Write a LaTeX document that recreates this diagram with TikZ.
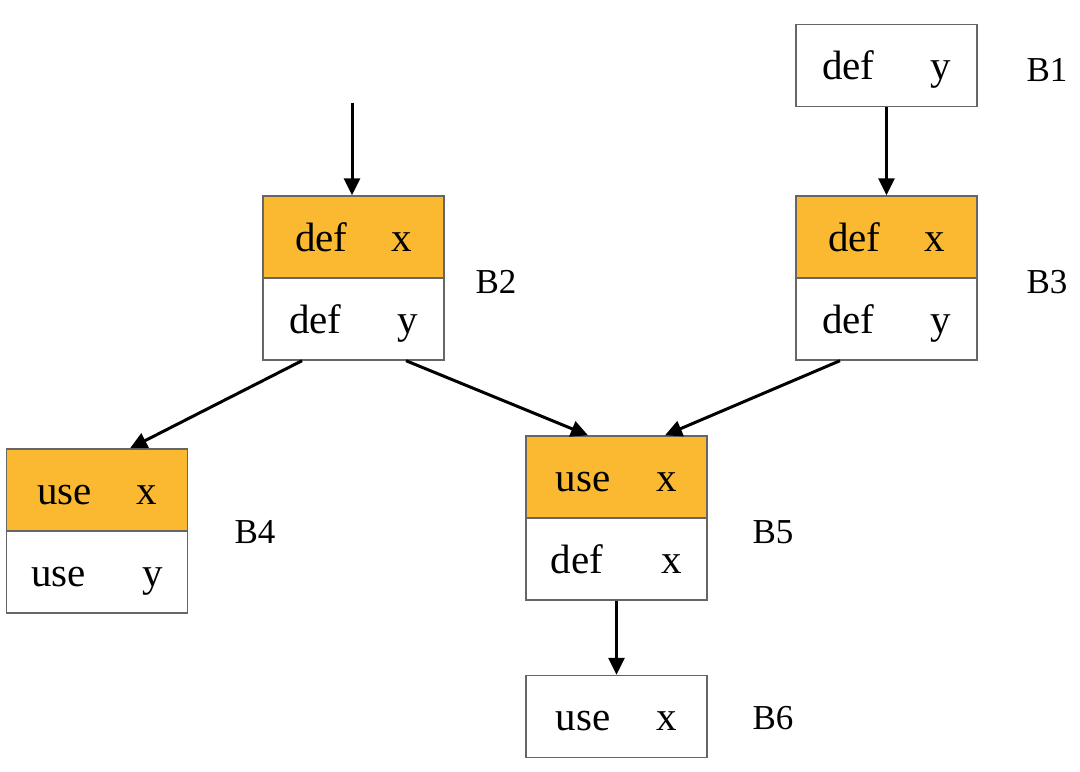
\documentclass[tikz,border=0pt]{standalone}
\usepackage{fontspec}
\setmainfont{Liberation Serif}
\usetikzlibrary{arrows.meta}
\definecolor{boxorange}{HTML}{FBB931}
\definecolor{boxline}{HTML}{666666}
\tikzset{
  cell/.style={draw=boxline, line width=0.7pt, minimum width=90.5pt, minimum height=41pt, inner sep=0pt, text height=18pt, text depth=4pt, font=\fontsize{20.5}{24}\selectfont},
  hot/.style={cell, fill=boxorange},
  plain/.style={cell, fill=white},
  lbl/.style={font=\fontsize{17.5}{21}\selectfont, inner sep=0pt},
  arr/.style={line width=1.5pt, -{Triangle[length=8.5pt,width=8pt]}}
}
\newcommand{\rx}[1]{def\hspace{22pt}#1}
\newcommand{\ry}[1]{def\hspace{28pt}#1}
\newcommand{\ux}[1]{use\hspace{23pt}#1}
\begin{document}
\begin{tikzpicture}[x=0.5pt,y=-0.5pt]
\useasboundingbox (0,0) rectangle (1080,771);
% B1
\node[plain] (b1) at (886.5,65.5) {\ry{y}};
\node[lbl] (l1) at (1047,70) {B1};
% B2
\node[hot] (b2a) at (353.5,237) {\rx{x}};
\node[plain] (b2b) at (353.5,319) {\ry{y}};
\node[lbl] (l2) at (496,282) {B2};
\coordinate (in2) at (352,103);
% B3
\node[hot] (b3a) at (886.5,237) {\rx{x}};
\node[plain] (b3b) at (886.5,319) {\ry{y}};
\node[lbl] (l3) at (1047,282) {B3};
% B4
\node[hot] (b4a) at (97,490) {use\hspace{22pt}x};
\node[plain] (b4b) at (97,572) {use\hspace{28pt}y};
\node[lbl] (l4) at (255,532) {B4};
% B5
\node[hot] (b5a) at (616.5,477) {\ux{x}};
\node[plain] (b5b) at (616.5,559) {def\hspace{29.5pt}x};
\node[lbl] (l5) at (773,532) {B5};
% B6
\node[plain] (b6) at (616.5,716.5) {\ux{x}};
\node[lbl] (l6) at (773,718) {B6};
% arrows
\draw[arr] (in2) -- (b2a.north -| in2);
\draw[arr] (b1.south) -- (b3a.north);
\draw[arr] ([xshift=-25.75pt]b2b.south) -- ([xshift=16.5pt]b4a.north);
\draw[arr] ([xshift=26.25pt]b2b.south) -- ([xshift=-14.25pt]b5a.north);
\draw[arr] ([xshift=-23.25pt]b3b.south) -- ([xshift=24.25pt]b5a.north);
\draw[arr] (b5b.south) -- (b6.north);
\end{tikzpicture}
\end{document}
